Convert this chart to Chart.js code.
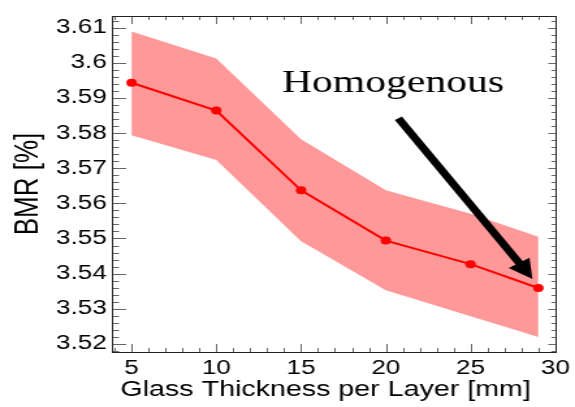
<!DOCTYPE html>
<html>
<head>
<meta charset="utf-8">
<script src="https://cdn.jsdelivr.net/npm/chart.js@4.4.1/dist/chart.umd.min.js"></script>
<style>
  html, body { margin: 0; padding: 0; background: #fff; overflow: hidden; }
  #wrap { width: 575px; height: 407px; overflow: hidden; }
  /* the figure is drawn narrow and widened, giving the wide lettering of the original export */
  #c { display: block; transform: scaleX(1.30090); transform-origin: 0 0; }
</style>
</head>
<body>
<div id="wrap"><canvas id="c" width="442" height="407"></canvas></div>
<script>
// Glass thickness per layer [mm]
const thickness = [5, 10, 15, 20, 25, 29];
// Mean BMR [%] and the edges of its spread band
const bmr      = [3.5943, 3.5864, 3.5637, 3.5494, 3.5427, 3.5359];
const bmrUpper = [3.6089, 3.6012, 3.5782, 3.5637, 3.5570, 3.5505];
const bmrLower = [3.5794, 3.5723, 3.5492, 3.5353, 3.5279, 3.5220];

// Axis ticks
const xTicks = [5, 10, 15, 20, 25, 30];
const yTicks = [3.52, 3.53, 3.54, 3.55, 3.56, 3.57, 3.58, 3.59, 3.60, 3.61];
const yTickLabels = ['3.52', '3.53', '3.54', '3.55', '3.56', '3.57', '3.58', '3.59', '3.6', '3.61'];

// Annotation
const noteText = 'Homogenous';
const notePos = { x: 13.87, y: 3.5917 };
const arrowTail = { x: 20.74, y: 3.5842 };
const arrowTip = { x: 28.65, y: 3.5385 };

const SANS = '"Liberation Sans", Arial, Helvetica, sans-serif';
const SERIF = '"Liberation Serif", "Times New Roman", serif';

const pts = ys => thickness.map((x, i) => ({ x: x, y: ys[i] }));

// Boxed frame with inward major and minor ticks on all four sides
const framePlugin = {
  id: 'frame',
  afterDatasetsDraw(chart) {
    const { ctx, chartArea: a, scales: { x, y } } = chart;
    ctx.save();
    ctx.lineWidth = 1;
    ctx.strokeStyle = '#666';
    ctx.beginPath();
    for (let v = 4; v <= 30; v += 1) {
      const px = Math.round(x.getPixelForValue(v)) + 0.5;
      const len = v % 5 === 0 ? 8 : 4;
      ctx.moveTo(px, a.bottom); ctx.lineTo(px, a.bottom - len);
      ctx.moveTo(px, a.top); ctx.lineTo(px, a.top + len);
    }
    for (let k = 0; k <= 47; k++) {
      const v = 3.518 + k * 0.002;
      const py = Math.round(y.getPixelForValue(v)) + 0.5;
      const major = Math.abs(Math.round(v * 100) - v * 100) < 1e-6;
      ctx.moveTo(a.left, py); ctx.lineTo(a.left + (major ? 11 : 5.5), py);
      ctx.moveTo(a.right, py); ctx.lineTo(a.right - (major ? 5.5 : 3), py);
    }
    ctx.stroke();
    ctx.strokeStyle = '#222';
    ctx.strokeRect(Math.round(a.left) + 0.5, Math.round(a.top) + 0.5,
                   Math.round(a.right - a.left), Math.round(a.bottom - a.top));
    ctx.restore();
  },
  afterDraw(chart) {
    const { ctx, scales: { x, y } } = chart;
    ctx.save();
    // label
    ctx.fillStyle = '#000';
    ctx.font = '32px ' + SERIF;
    ctx.textAlign = 'left';
    ctx.textBaseline = 'alphabetic';
    ctx.fillText(noteText, x.getPixelForValue(notePos.x), y.getPixelForValue(notePos.y));
    // arrow
    const x0 = x.getPixelForValue(arrowTail.x), y0 = y.getPixelForValue(arrowTail.y);
    const x1 = x.getPixelForValue(arrowTip.x), y1 = y.getPixelForValue(arrowTip.y);
    const dx = x1 - x0, dy = y1 - y0, L = Math.hypot(dx, dy);
    const ux = dx / L, uy = dy / L;
    const headLen = 19, headHalf = 9.5;
    const bx = x1 - ux * headLen, by = y1 - uy * headLen;
    ctx.strokeStyle = '#000';
    ctx.lineWidth = 6.5;
    ctx.lineCap = 'butt';
    ctx.beginPath();
    ctx.moveTo(x0, y0);
    ctx.lineTo(bx + ux * 2, by + uy * 2);
    ctx.stroke();
    ctx.fillStyle = '#000';
    ctx.beginPath();
    ctx.moveTo(x1, y1);
    ctx.lineTo(bx - uy * headHalf, by + ux * headHalf);
    ctx.lineTo(bx + uy * headHalf, by - ux * headHalf);
    ctx.closePath();
    ctx.fill();
    ctx.restore();
  }
};

new Chart(document.getElementById('c'), {
  type: 'line',
  data: {
    datasets: [
      {
        label: 'BMR',
        data: pts(bmr),
        borderColor: '#ff0000',
        backgroundColor: '#ff0000',
        borderWidth: 2,
        pointRadius: 4,
        pointBorderWidth: 0,
        pointBackgroundColor: '#ff0000',
        tension: 0,
        fill: false
      },
      {
        label: 'upper',
        data: pts(bmrUpper),
        borderWidth: 0,
        borderColor: 'rgba(0,0,0,0)',
        pointRadius: 0,
        backgroundColor: 'rgb(255,152,152)',
        tension: 0,
        fill: '+1'
      },
      {
        label: 'lower',
        data: pts(bmrLower),
        borderWidth: 0,
        borderColor: 'rgba(0,0,0,0)',
        pointRadius: 0,
        tension: 0,
        fill: false
      }
    ]
  },
  options: {
    responsive: false,
    animation: false,
    devicePixelRatio: 1,
    layout: { padding: { left: 0, right: 11, top: 7, bottom: 0 } },
    plugins: {
      legend: { display: false },
      tooltip: { enabled: false }
    },
    scales: {
      x: {
        type: 'linear',
        min: 3.84,
        max: 30,
        afterBuildTicks: s => { s.ticks = xTicks.map(v => ({ value: v })); },
        afterFit: s => { s.height = 55; },
        grid: { display: false, drawTicks: false },
        border: { display: false },
        ticks: {
          autoSkip: false,
          maxRotation: 0,
          padding: 4,
          color: '#000',
          font: { family: SANS, size: 20 },
          callback: v => String(v)
        },
        title: {
          display: true,
          text: 'Glass Thickness per Layer [mm]  ',
          color: '#000',
          font: { family: SANS, size: 22 },
          padding: { top: 0, bottom: 4 }
        }
      },
      y: {
        type: 'linear',
        min: 3.5177,
        max: 3.6133,
        afterBuildTicks: s => { s.ticks = yTicks.map(v => ({ value: v })); },
        afterFit: s => { s.width = 86; },
        grid: { display: false, drawTicks: false },
        border: { display: false },
        ticks: {
          autoSkip: false,
          padding: 4,
          color: '#000',
          font: { family: SANS, size: 20 },
          callback: (v, i) => yTickLabels[i]
        },
        title: {
          display: true,
          text: 'BMR [%]',
          color: '#000',
          font: { family: SANS, size: 26 },
          padding: { top: 6, bottom: 0 }
        }
      }
    }
  },
  plugins: [framePlugin]
});
</script>
</body>
</html>
